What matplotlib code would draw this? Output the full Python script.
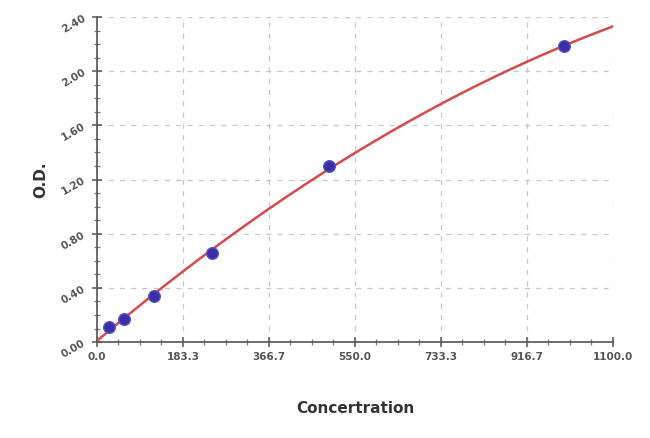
import numpy as np
import matplotlib.pyplot as plt
from matplotlib.ticker import AutoMinorLocator

# standard points
conc = [26, 58, 122, 245, 494, 996]
od = [0.111, 0.170, 0.340, 0.657, 1.300, 2.185]

x_ticks = [0.0, 183.3, 366.7, 550.0, 733.3, 916.7, 1100.0]
y_ticks = [0.00, 0.40, 0.80, 1.20, 1.60, 2.00, 2.40]


def main():
    fig = plt.figure(figsize=(6.5, 4.38), dpi=100)
    ax = fig.add_axes([0.149, 0.219, 0.794, 0.742])

    # fitted standard curve
    coef = np.polyfit(conc, od, 2)
    xs = np.linspace(0, 1100, 300)
    ax.plot(xs, np.polyval(coef, xs), color='#d64a4a', lw=1.8, zorder=3)
    ax.scatter(conc, od, s=70, color='#3b2fa8', edgecolor='#5a50c8', zorder=4)

    ax.set_xlim(0, 1100)
    ax.set_ylim(0, 2.4)
    ax.set_xticks(x_ticks)
    ax.set_xticklabels([f'{v:.1f}' for v in x_ticks])
    ax.set_yticks(y_ticks)
    ax.set_yticklabels([f'{v:.2f}' for v in y_ticks], rotation=30)
    ax.xaxis.set_minor_locator(AutoMinorLocator(4))
    ax.yaxis.set_minor_locator(AutoMinorLocator(4))

    ax.grid(True, which='major', ls=(0, (4, 5)), color='#c8c8c8', lw=0.9)
    for s in ['top', 'right']:
        ax.spines[s].set_visible(False)
    for s in ['left', 'bottom']:
        ax.spines[s].set_color('#555555')
        ax.spines[s].set_linewidth(1.2)

    ax.tick_params(which='major', direction='inout', length=7, width=1.1,
                   color='#555555', labelsize=7.5, labelcolor='#555555')
    ax.tick_params(which='minor', direction='inout', length=4, width=0.9,
                   color='#777777')
    for lab in ax.get_xticklabels() + ax.get_yticklabels():
        lab.set_fontweight('bold')

    ax.set_xlabel('Concertration', fontsize=11, fontweight='bold',
                  color='#333333', labelpad=28)
    ax.set_ylabel('O.D.', fontsize=11, fontweight='bold', color='#333333',
                  labelpad=8)

    fig.savefig('out.png', dpi=100)


if __name__ == '__main__':
    main()
